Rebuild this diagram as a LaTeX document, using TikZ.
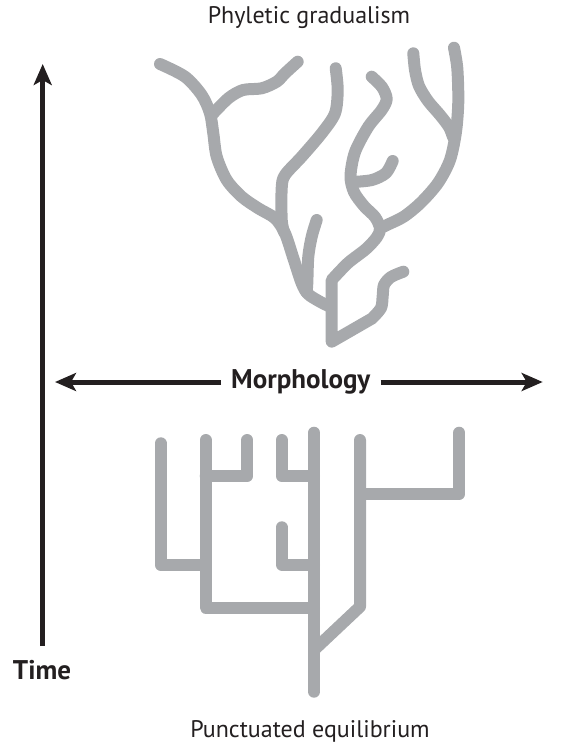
\documentclass[tikz,border=0pt]{standalone}
\usepackage{fontspec}
\setmainfont{PT Sans}
\usetikzlibrary{arrows.meta}
\definecolor{treegray}{HTML}{A7A9AC}
\definecolor{ink}{HTML}{231F20}
\tikzset{
  tree/.style={draw=treegray, line width=12pt, line cap=round, line join=round},
  axis/.style={draw=ink, line width=5pt, -{Stealth[length=21pt,width=18pt,inset=5pt]}},
  lbl/.style={text=ink, inner sep=0pt, font=\fontsize{24}{28}\selectfont},
  blbl/.style={text=ink, inner sep=0pt, font=\fontsize{27}{31}\selectfont\bfseries},
}
\begin{document}
\begin{tikzpicture}[x=1pt,y=-1pt]
\useasboundingbox (0,0) rectangle (567,745);

% titles
\node[lbl, anchor=base] (top) at (309,23.5) {Phyletic gradualism};
\node[lbl, anchor=base] (bot) at (310,737.3) {Punctuated equilibrium};

% axes
\node[blbl, inner xsep=10pt] (morph) at (300.8,382) {Morphology};
\coordinate (mleft) at (55,382);
\coordinate (mright) at (542.7,382);
\draw[axis] (morph.west) -- (mleft);
\draw[axis] (morph.east) -- (mright);

\node[blbl, anchor=base] (time) at (42,679.3) {Time};
\coordinate (tbase) at (42.7,646);
\coordinate (ttop) at (42.7,64);
\draw[axis, -{Stealth[length=21pt,width=18pt,inset=5pt]}] (tbase) -- (ttop);

% ---------- phyletic gradualism tree ----------
\draw[tree] plot[smooth] coordinates {(160,64) (185,76.7) (201.7,95) (210,113.3) (213.3,133.3) (216.7,156.7) (226.7,180) (241.7,196.7) (258.3,208.3) (275,218.3) (285,233.3) (293.3,258) (301.7,283.3) (308,294) (320,301.7) (330,306.7)};
\draw[tree] plot[smooth] coordinates {(211.7,115) (228.3,98.3) (243,90) (261.7,88.3) (276.7,81.7) (285,73.3) (297.7,61.7)};
\draw[tree] plot[smooth] coordinates {(335.7,68.3) (337.7,90) (335,113.3) (321.7,133.3) (301.7,156.7) (285,175) (281.7,188) (281.7,220) (284,232)};
\draw[tree] plot[smooth] coordinates {(316.7,220) (311.7,236.7) (308.3,256.7) (307.3,283.3) (306.5,292)};
\draw[tree] plot[smooth] coordinates {(403.3,271.7) (391,277) (384,285) (382.7,296) (381,308) (372,318.5)} -- (331.7,341.7) -- (331.7,280)
  -- plot[smooth] coordinates {(331.7,280) (348,263) (366,249) (377,237) (380,228.3) (375,217) (364,206) (354,192) (350.5,176) (355,152) (368.3,126.7) (381.7,110) (386.7,99) (382,87) (371.7,76.7)};
\draw[tree] plot[smooth] coordinates {(380,228.3) (388,224.5) (404,216.5) (421,202.5) (438,183) (450,160) (456,131.7) (458.3,101.7) (457.3,68.3) (454,47.7)};
\draw[tree] plot[smooth] coordinates {(353,182) (372,180) (386,173) (392.7,161)};
\draw[tree] plot[smooth] coordinates {(413.3,53.3) (415,70) (419,86) (428,101) (440,115) (449,127) (453,137)};

% ---------- punctuated equilibrium tree ----------
\draw[tree] (160.7,443.3) -- (160.7,565) -- (205.7,565);
\draw[tree] (205.7,440) -- (205.7,607.7) -- (314,607.7);
\draw[tree] (205.7,476) -- (247.3,476) -- (247.3,440);
\draw[tree] (281.7,440) -- (281.7,476) -- (314,476);
\draw[tree] (314,432.7) -- (314,691.7);
\draw[tree] (281.7,527.3) -- (281.7,564.5) -- (314,564.5);
\draw[tree] (360,440) -- (360,606.7) -- (314,650);
\draw[tree] (360,494) -- (459.3,494) -- (459.3,432.7);
\end{tikzpicture}
\end{document}
